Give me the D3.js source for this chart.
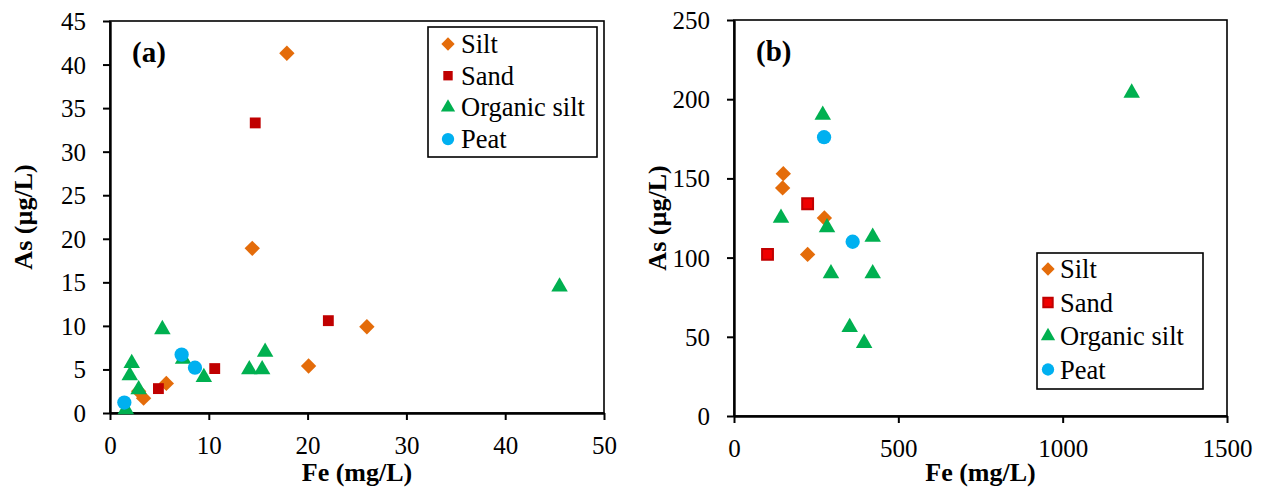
<!DOCTYPE html>
<html>
<head>
<meta charset="utf-8">
<script src="https://cdn.jsdelivr.net/npm/d3@7"></script>
<style>
  body { margin: 0; background: #fff; }
  svg text { font-family: "Liberation Serif", Tinos, "Times New Roman", "DejaVu Serif", serif; }
</style>
</head>
<body>
<div id="chart"></div>
<script>

/* DATA ========================================================= */

const seriesNames = ["Silt", "Sand", "Organic silt", "Peat"];

// panel (a): Fe (mg/L) vs As (µg/L)
const siltA    = [[17.9, 41.3], [14.4, 18.9], [20.1, 5.4], [26.0, 9.9], [5.7, 3.4], [3.4, 1.7], [2.9, 2.5]];
const sandA    = [[14.7, 33.3], [22.1, 10.6], [10.6, 5.1], [4.9, 2.8]];
const organicA = [[5.3, 9.6], [2.2, 5.7], [2.0, 4.3], [2.9, 2.7], [1.6, 0.4], [7.4, 6.2], [9.5, 4.1],
                  [14.1, 5.0], [15.4, 5.0], [15.7, 7.0], [45.5, 14.5]];
const peatA    = [[1.45, 1.2], [7.25, 6.7], [8.6, 5.2]];

// panel (b)
const siltB    = [[150, 153], [148, 144], [275, 125], [224, 102]];
const sandB    = [[224, 134], [102, 102]];
const organicB = [[270, 190], [143, 125], [283, 119], [422, 113], [295, 90], [422, 90],
                  [352, 56], [396, 46], [1210, 204]];
const peatB    = [[274, 176], [361, 110]];

const xTicksA = [0, 10, 20, 30, 40, 50];
const yTicksA = [0, 5, 10, 15, 20, 25, 30, 35, 40, 45];
const xTicksB = [0, 500, 1000, 1500];
const yTicksB = [0, 50, 100, 150, 200, 250];

/* STYLE ======================================================== */

const width = 1263, height = 488;
const colors = ["#e46c0a", "#c00000", "#00b050", "#00b0f0"];
const serif = '"Liberation Serif", Tinos, "Times New Roman", "DejaVu Serif", serif';

const svg = d3.select("#chart")
  .append("svg")
  .attr("width", width)
  .attr("height", height)
  .attr("font-family", serif);

// one marker shape per series
function marker(i, scale = 1) {
  if (i === 0) return d3.symbol().type(d3.symbolSquare).size(118 * scale)();   // rotated -> diamond
  if (i === 1) return d3.symbol().type(d3.symbolSquare).size(118 * scale)();
  if (i === 2) return d3.symbol().type(d3.symbolTriangle).size(118 * scale)();
  return d3.symbol().type(d3.symbolCircle).size(160 * scale)();
}

function drawPanel(cfg) {
  const { box, xDomain, yDomain, xTicks, yTicks, series, label, legend, yTitleX, squareOutline } = cfg;

  const x = d3.scaleLinear().domain(xDomain).range([box.left, box.right]);
  const y = d3.scaleLinear().domain(yDomain).range([box.bottom, box.top]);

  const g = svg.append("g");

  // frame
  g.append("rect")
    .attr("x", box.left).attr("y", box.top)
    .attr("width", box.right - box.left).attr("height", box.bottom - box.top)
    .attr("fill", "none").attr("stroke", "#000").attr("stroke-width", 1.6);

  // axes
  const xAxis = d3.axisBottom(x).tickValues(xTicks).tickFormat(d3.format("d")).tickSize(7).tickSizeOuter(0);
  const yAxis = d3.axisLeft(y).tickValues(yTicks).tickFormat(d3.format("d")).tickSize(7).tickSizeOuter(0);

  const gx = g.append("g")
    .attr("transform", `translate(0, ${box.bottom})`)
    .call(xAxis);
  const gy = g.append("g")
    .attr("transform", `translate(${box.left}, 0)`)
    .call(yAxis);

  [gx, gy].forEach(a => {
    a.attr("font-family", serif).attr("font-size", 25);
    a.select(".domain").attr("stroke", "#000").attr("stroke-width", 2.4);
    a.selectAll(".tick line").attr("stroke", "#000").attr("stroke-width", 2);
    a.selectAll(".tick text").attr("fill", "#000");
  });
  gx.selectAll(".tick text").attr("y", 23).attr("dy", "0.71em");
  gy.selectAll(".tick text").attr("x", -24).attr("dy", "0.34em");

  // axis titles
  g.append("text")
    .attr("x", (box.left + box.right) / 2)
    .attr("y", 481)
    .attr("text-anchor", "middle")
    .attr("font-size", 26)
    .attr("font-weight", "bold")
    .text("Fe (mg/L)");

  g.append("text")
    .attr("transform", `translate(${yTitleX}, ${(box.top + box.bottom) / 2}) rotate(-90)`)
    .attr("text-anchor", "middle")
    .attr("font-size", 26)
    .attr("font-weight", "bold")
    .text("As (µg/L)");

  // panel label
  g.append("text")
    .attr("x", box.left + 22)
    .attr("y", box.top + 41)
    .attr("font-size", 29)
    .attr("font-weight", "bold")
    .text(label);

  // points
  series.forEach((pts, i) => {
    g.selectAll(null)
      .data(pts)
      .join("path")
      .attr("d", marker(i))
      .attr("transform", d => `translate(${x(d[0])}, ${y(d[1])})` + (i === 0 ? " rotate(45)" : ""))
      .attr("fill", i === 1 && squareOutline ? "#f00000" : colors[i])
      .attr("stroke", i === 1 && squareOutline ? "#c00000" : "none")
      .attr("stroke-width", 2);
  });

  // legend
  g.append("rect")
    .attr("x", legend.x).attr("y", legend.y)
    .attr("width", legend.w).attr("height", legend.h)
    .attr("fill", "#fff").attr("stroke", "#000").attr("stroke-width", 1.6);

  seriesNames.forEach((name, i) => {
    const cy = legend.y + legend.first + i * legend.step;
    g.append("path")
      .attr("d", marker(i, 0.75))
      .attr("transform", `translate(${legend.x + legend.mx}, ${cy})` + (i === 0 ? " rotate(45)" : ""))
      .attr("fill", i === 1 && squareOutline ? "#f00000" : colors[i])
      .attr("stroke", i === 1 && squareOutline ? "#c00000" : "none")
      .attr("stroke-width", 2);
    g.append("text")
      .attr("x", legend.x + legend.tx)
      .attr("y", cy)
      .attr("dy", "0.34em")
      .attr("font-size", 26.5)
      .text(name);
  });
}

drawPanel({
  box: { left: 110, right: 604, top: 21, bottom: 413 },
  xDomain: [0, 50], yDomain: [0, 45],
  xTicks: xTicksA, yTicks: yTicksA,
  series: [siltA, sandA, organicA, peatA],
  label: "(a)",
  yTitleX: 32,
  squareOutline: false,
  legend: { x: 428, y: 27, w: 169, h: 130, first: 17, step: 31.7, mx: 20, tx: 33 }
});

drawPanel({
  box: { left: 734, right: 1227, top: 20, bottom: 416 },
  xDomain: [0, 1500], yDomain: [0, 250],
  xTicks: xTicksB, yTicks: yTicksB,
  series: [siltB, sandB, organicB, peatB],
  label: "(b)",
  yTitleX: 666,
  squareOutline: true,
  legend: { x: 1037, y: 253, w: 166, h: 136, first: 16, step: 33.5, mx: 11, tx: 23 }
});

</script>
</body>
</html>
